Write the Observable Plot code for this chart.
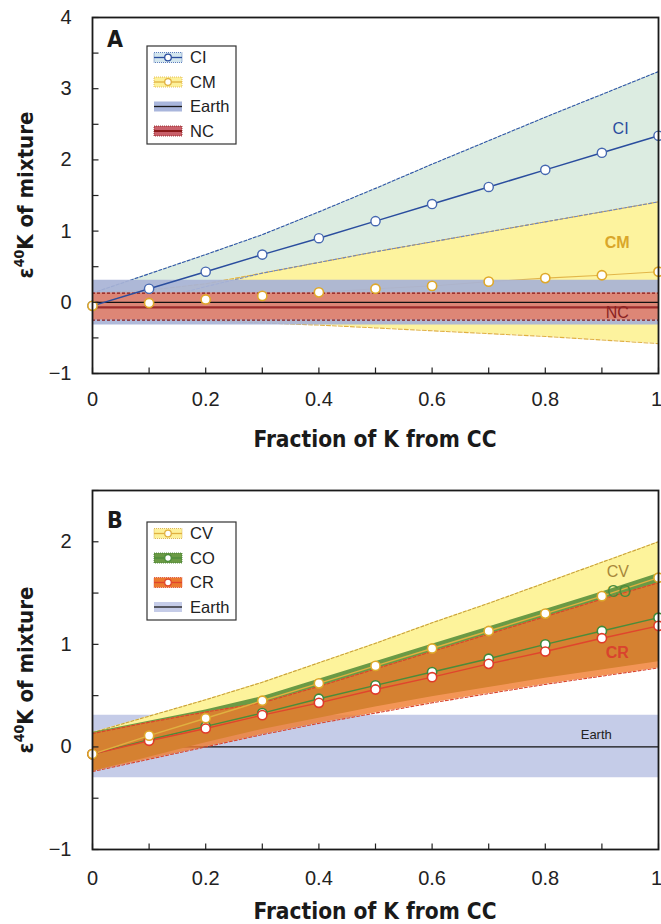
<!DOCTYPE html>
<html><head><meta charset="utf-8">
<script src="https://cdn.jsdelivr.net/npm/d3@7"></script>
<script src="https://cdn.jsdelivr.net/npm/@observablehq/plot@0.6"></script>
<style>
body{margin:0;background:#fff;}
#chart{width:661px;}
#chart svg{display:block;}
</style></head><body><div id="chart"></div>
<script>
// ---------- data ----------
const fractions = [0,0.1,0.2,0.3,0.4,0.5,0.6,0.7,0.8,0.9,1];
// Panel A
const ciMid  = [-0.05,0.19,0.43,0.67,0.90,1.14,1.38,1.62,1.86,2.10,2.34];
const ciHigh = [0.13,0.40,0.67,0.95,1.27,1.60,1.94,2.27,2.60,2.92,3.24];
const ciLow  = [-0.22,0.02,0.22,0.41,0.56,0.71,0.85,0.99,1.13,1.27,1.41];
const cmMid  = [-0.05,-0.01,0.04,0.09,0.14,0.19,0.23,0.29,0.34,0.38,0.43];
const cmHigh = [0.13,0.17,0.26,0.41,0.56,0.71,0.85,0.99,1.13,1.27,1.41];
const cmLow  = [-0.22,-0.24,-0.26,-0.29,-0.32,-0.36,-0.40,-0.44,-0.48,-0.53,-0.58];
const earthRangeA = [-0.32, 0.31];
const ncRange = [-0.25, 0.13];
const ncValue = -0.07;
// Panel B
const cvMid  = [-0.07,0.11,0.28,0.45,0.62,0.79,0.96,1.13,1.30,1.47,1.65];
const cvHigh = [0.14,0.30,0.46,0.63,0.82,1.01,1.21,1.40,1.60,1.80,2.00];
const cvLow  = [-0.24,-0.09,0.06,0.20,0.32,0.44,0.55,0.65,0.75,0.84,0.93];
const coMid  = [-0.07,0.07,0.20,0.33,0.47,0.60,0.73,0.86,1.00,1.13,1.26];
const coHigh = [0.14,0.25,0.36,0.49,0.66,0.83,1.00,1.17,1.34,1.51,1.69];
const coLow  = [-0.24,-0.10,0.04,0.17,0.28,0.39,0.49,0.58,0.67,0.75,0.83];
const crMid  = [-0.07,0.06,0.18,0.31,0.43,0.56,0.68,0.81,0.93,1.06,1.18];
const crHigh = [0.13,0.24,0.34,0.43,0.59,0.76,0.93,1.10,1.27,1.44,1.60];
const crLow  = [-0.24,-0.12,0.00,0.12,0.23,0.33,0.43,0.52,0.61,0.69,0.77];
const earthRangeB = [-0.30, 0.31];
// ticks
const xMajor = [0,0.2,0.4,0.6,0.8];
const xMajorEnd = [1];
const xMinor = [0,0.1,0.2,0.3,0.4,0.5,0.6,0.7,0.8,0.9,1];
const yMajorA = [-1,0,1,2,3,4];
const yMinorA = [-1,-0.5,0,0.5,1,1.5,2,2.5,3,3.5,4];
const yMajorB = [-1,0,1,2];
const yMinorB = [-1,-0.5,0,0.5,1,1.5,2,2.5];
// annotations
const labelsA = [
  {x:0.933,y:2.44,text:"CI",color:"#2a4d9e",weight:"normal"},
  {x:0.927,y:0.83,text:"CM",color:"#d9a62a",weight:"bold"},
  {x:0.927,y:-0.155,text:"NC",color:"#8a2222",weight:"normal"}
];
const labelsB = [
  {x:0.928,y:1.71,text:"CV",color:"#a8873a",weight:"normal"},
  {x:0.93,y:1.51,text:"CO",color:"#4b8c3a",weight:"normal"},
  {x:0.927,y:0.92,text:"CR",color:"#d9432e",weight:"bold"},
  {x:0.89,y:0.12,text:"Earth",color:"#222",weight:"normal"}
];
const legendA = [
  {label:"CI", fill:"#d3e6ee", border:"#3a5fae", line:"#2a4d9e", marker:true, lw:1.3},
  {label:"CM", fill:"#fdf19a", border:"#e0b040", line:"#e0b040", marker:true, lw:1.3},
  {label:"Earth", fill:"#a9b6dc", border:null, line:"#1a1a1a", marker:false, lw:1.3},
  {label:"NC", fill:"#c9606a", border:"#8b1a1a", line:"#8b1a1a", marker:false, lw:2}
];
const legendB = [
  {label:"CV", fill:"#fdf19a", border:"#d4a640", line:"#e0b040", marker:true, lw:1.3},
  {label:"CO", fill:"#6a9a45", border:"#3e7a2e", line:"#4b8c3a", marker:true, lw:1.3},
  {label:"CR", fill:"#eb7a30", border:"#e0452d", line:"#e0452d", marker:true, lw:1.3},
  {label:"Earth", fill:"#c5cce8", border:null, line:"#1a1a1a", marker:false, lw:1.3}
];

// ---------- helpers ----------
const tableA = fractions.map((x,i)=>({x, ciMid:ciMid[i], ciHigh:ciHigh[i], ciLow:ciLow[i], cmMid:cmMid[i], cmHigh:cmHigh[i], cmLow:cmLow[i]}));
const tableB = fractions.map((x,i)=>({x, cvMid:cvMid[i], cvHigh:cvHigh[i], cvLow:cvLow[i], coMid:coMid[i], coHigh:coHigh[i], coLow:coLow[i], crMid:crMid[i], crHigh:crHigh[i], crLow:crLow[i]}));
const ends = [0,1];
const fmtY = d => d < 0 ? "\u2212" + Math.abs(d) : String(d);
const fmtX = d => d === 0 ? "0" : d === 1 ? "1" : d.toFixed(1);
const tickUp = {draw(c){ c.moveTo(0,0); c.lineTo(0,-6); }};
const tickRight = {draw(c){ c.moveTo(0,0); c.lineTo(6,0); }};
const FONT = "'Liberation Sans', Arial, Helvetica, sans-serif";
const TITLEFONT = "'Liberation Sans Narrow', 'DejaVu Sans Condensed', 'Liberation Sans', sans-serif";

function axesMarks(yDomain, yMajor, yMinor, padX) {
  return [
    Plot.dot(xMinor, {x: d=>d, y: yDomain[0], symbol: tickUp, fill: "none", stroke: "#222", strokeWidth: 1.2}),
    Plot.dot(yMinor, {x: 0, y: d=>d, symbol: tickRight, fill: "none", stroke: "#222", strokeWidth: 1.2}),
    Plot.frame({stroke: "#1a1a1a", strokeWidth: 1.8}),
    Plot.axisX(xMajor, {tickSize: 0, tickPadding: padX, fontSize: 20, tickFormat: fmtX, label: null, fill: "#222"}),
    Plot.axisX(xMajorEnd, {tickSize: 0, tickPadding: padX, fontSize: 20, tickFormat: fmtX, label: null, fill: "#222", dx: -2}),
    Plot.axisY(yMajor, {tickSize: 0, tickPadding: 21, fontSize: 20, tickFormat: fmtY, label: null, fill: "#222"})
  ];
}

function decorate(svg, opts) {
  const s = d3.select(svg);
  // panel letter
  s.append("text").attr("x", 107).attr("y", opts.letterY).text(opts.letter).attr("text-anchor", "start")
    .attr("font-family", TITLEFONT).attr("font-weight", "bold").attr("font-size", 23).attr("fill", "#1a1a1a");
  // y title
  const yt = s.append("text").attr("transform", `translate(33,${opts.yTitleY}) rotate(-90)`)
    .attr("text-anchor", "middle").attr("font-family", TITLEFONT).attr("font-weight", "bold")
    .attr("font-size", 22).attr("fill", "#1a1a1a");
  yt.append("tspan").text("\u03b5");
  yt.append("tspan").text("40").attr("font-size", 14).attr("dy", -9);
  yt.append("tspan").text("K of mixture").attr("dy", 9);
  // x title
  s.append("text").attr("x", 375).attr("y", opts.xTitleY).attr("text-anchor", "middle")
    .attr("font-family", TITLEFONT).attr("font-weight", "bold").attr("font-size", 22.5)
    .attr("fill", "#1a1a1a").text("Fraction of K from CC");
  // legend
  const L = opts.legend, bx = 147, by = opts.legendTop, bw = 89, bh = 98;
  const g = s.append("g").attr("text-anchor", "start");
  g.append("rect").attr("x", bx).attr("y", by).attr("width", bw).attr("height", bh)
    .attr("fill", "#fff").attr("stroke", "#333").attr("stroke-width", 1.2);
  L.forEach((it, i) => {
    const cy = by + 11.5 + i * 24.5;
    g.append("rect").attr("x", 154).attr("y", cy - 5).attr("width", 28).attr("height", 10)
      .attr("fill", it.fill).attr("stroke", it.border || "none").attr("stroke-width", 0.8)
      .attr("stroke-dasharray", it.border ? "1,1" : null);
    g.append("line").attr("x1", 154).attr("x2", 182).attr("y1", cy).attr("y2", cy)
      .attr("stroke", it.line).attr("stroke-width", it.lw);
    if (it.marker) g.append("circle").attr("cx", 168).attr("cy", cy).attr("r", 3.3)
      .attr("fill", "#fff").attr("stroke", it.line).attr("stroke-width", 1.3);
    g.append("text").attr("x", 190).attr("y", cy).attr("dy", "0.36em").text(it.label)
      .attr("text-anchor", "start")
      .attr("font-family", FONT).attr("font-size", 16.5).attr("fill", "#222");
  });
}

function textMarks(labels) {
  return labels.map(l => Plot.text([l], {x: "x", y: "y", text: "text", fill: l.color,
    fontWeight: l.weight, fontSize: l.text === "Earth" ? 13 : 16, fontFamily: FONT}));
}

// ---------- Panel A ----------
const yDomA = [-1, 4];
const plotA = Plot.plot({
  width: 661, height: 450, marginTop: 17, marginLeft: 92, marginRight: 3, marginBottom: 77,
  style: {fontFamily: FONT, background: "#fff", overflow: "visible"},
  x: {domain: [0, 1]}, y: {domain: yDomA},
  marks: [
    Plot.areaY(tableA, {x: "x", y1: "ciLow", y2: "ciHigh", fill: "#dcece1"}),
    Plot.areaY(tableA, {x: "x", y1: "cmLow", y2: "cmHigh", fill: "#fdf39e"}),
    Plot.line(tableA, {x: "x", y: "ciHigh", stroke: "#2f55a8", strokeWidth: 1.1, strokeDasharray: "3,2"}),
    Plot.line(tableA, {x: "x", y: "cmHigh", stroke: "#e0b040", strokeWidth: 1.1, strokeDasharray: "4,2"}),
    Plot.line(tableA, {x: "x", y: "ciLow", stroke: "#6f86c0", strokeWidth: 1.1, strokeDasharray: "3,2", strokeDashoffset: 2}),
    Plot.line(tableA, {x: "x", y: "cmLow", stroke: "#e0b040", strokeWidth: 1.1, strokeDasharray: "4,2"}),
    Plot.line(tableA, {x: "x", y: "cmMid", stroke: "#e2b64a", strokeWidth: 1.1}),
    Plot.areaY(ends, {x: d=>d, y1: earthRangeA[0], y2: earthRangeA[1], fill: "#a8b3d6", fillOpacity: 0.92}),
    Plot.areaY(ends, {x: d=>d, y1: ncRange[0], y2: ncRange[1], fill: "#dd8676"}),
    Plot.ruleY([ncRange[0], ncRange[1]], {stroke: "#8b1a1a", strokeWidth: 1.2, strokeDasharray: "3,2"}),
    Plot.ruleY([0], {stroke: "#111", strokeWidth: 1.2}),
    Plot.ruleY([ncValue], {stroke: "#9c2c2c", strokeWidth: 2.2}),
    Plot.line(tableA, {x: "x", y: "ciMid", stroke: "#2a4d9e", strokeWidth: 1.5}),
    Plot.dot(tableA, {x: "x", y: "ciMid", r: 4.6, fill: "#fff", stroke: "#4567b0", strokeWidth: 1.4}),
    Plot.dot(tableA, {x: "x", y: "cmMid", r: 4.6, fill: "#fff", stroke: "#dfa82a", strokeWidth: 1.6}),
    ...textMarks(labelsA),
    ...axesMarks(yDomA, yMajorA, yMinorA, 18)
  ]
});
decorate(plotA, {letter: "A", letterY: 47, yTitleY: 195, xTitleY: 447, legend: legendA, legendTop: 46});

// ---------- Panel B ----------
const yDomB = [-1, 2.5];
const plotB = Plot.plot({
  width: 661, height: 474, marginTop: 40, marginLeft: 92, marginRight: 3, marginBottom: 75,
  style: {fontFamily: FONT, background: "#fff", overflow: "visible"},
  x: {domain: [0, 1]}, y: {domain: yDomB},
  marks: [
    Plot.areaY(ends, {x: d=>d, y1: earthRangeB[0], y2: earthRangeB[1], fill: "#c5cce8"}),
    Plot.ruleY([0], {stroke: "#111", strokeWidth: 1.2}),
    Plot.areaY(tableB, {x: "x", y1: "cvLow", y2: "cvHigh", fill: "#fdf39b"}),
    Plot.line(tableB, {x: "x", y: "cvHigh", stroke: "#c9a03c", strokeWidth: 1.1, strokeDasharray: "3,2"}),
    Plot.areaY(tableB, {x: "x", y1: "coLow", y2: "coHigh", fill: "#6a9a45"}),
    Plot.areaY(tableB, {x: "x", y1: "crLow", y2: "crHigh", fill: "#f07a2c", fillOpacity: 0.8}),
    Plot.line(tableB, {x: "x", y: "crHigh", stroke: "#d9452d", strokeWidth: 1.1, strokeDasharray: "3,2"}),
    Plot.line(tableB, {x: "x", y: "crLow", stroke: "#d9452d", strokeWidth: 1.1, strokeDasharray: "3,2"}),
    Plot.line(tableB, {x: "x", y: "coMid", stroke: "#4b8c3a", strokeWidth: 1.4}),
    Plot.line(tableB, {x: "x", y: "crMid", stroke: "#e0452d", strokeWidth: 1.4}),
    Plot.line(tableB, {x: "x", y: "cvMid", stroke: "#e0b040", strokeWidth: 1.4}),
    Plot.dot(tableB, {x: "x", y: "coMid", r: 4.6, fill: "#fff", stroke: "#3e8a3a", strokeWidth: 1.6}),
    Plot.dot(tableB, {x: "x", y: "crMid", r: 4.6, fill: "#fff", stroke: "#e03a2a", strokeWidth: 1.6}),
    Plot.dot(tableB, {x: "x", y: "cvMid", r: 4.6, fill: "#fff", stroke: "#dfa82a", strokeWidth: 1.6}),
    ...textMarks(labelsB),
    ...axesMarks(yDomB, yMajorB, yMinorB, 21)
  ]
});
decorate(plotB, {letter: "B", letterY: 78, yTitleY: 220, xTitleY: 469, legend: legendB, legendTop: 72});

document.getElementById("chart").append(plotA, plotB);
</script></body></html>
